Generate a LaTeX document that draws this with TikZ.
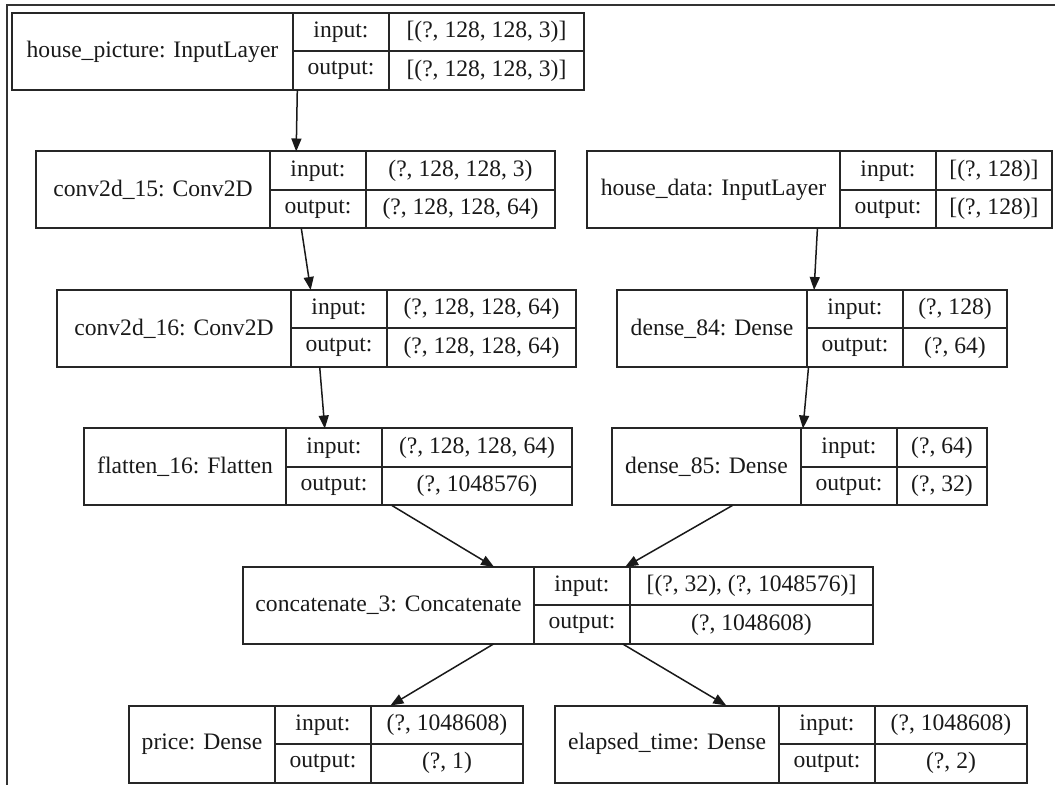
\documentclass[tikz,border=0pt]{standalone}
\usepackage{fontspec}
\setmainfont{Liberation Serif}
\usetikzlibrary{arrows.meta,positioning,fit}
\tikzstyle{cell}=[draw=black!85, line width=1pt, outer sep=0pt, inner sep=0pt, text=black!90, font=\fontsize{11.8}{14}\selectfont]
\tikzstyle{namecell}=[cell, minimum height=38.5pt, anchor=north west]
\tikzstyle{labcell}=[cell, minimum width=48pt, minimum height=19.25pt]
\tikzstyle{valcell}=[cell, minimum height=19.25pt]
\tikzstyle{arr}=[-{Triangle[length=6.5pt,width=5pt]}, line width=0.75pt, black!90]
% #1 node, #2 x, #3 y, #4 name width, #5 value width, #6 layer, #7 input, #8 output
\newcommand{\layerbox}[8]{
    \node[namecell, minimum width=#4*0.5pt] (#1-name) at (#2,#3) {#6};
    \node[labcell, anchor=north west] (#1-in) at (#1-name.north east) {input:};
    \node[labcell, below=0pt of #1-in] (#1-out) {output:};
    \node[valcell, minimum width=#5*0.5pt, right=0pt of #1-in] (#1-inval) {#7};
    \node[valcell, minimum width=#5*0.5pt, right=0pt of #1-out] (#1-outval) {#8};
    \node[fit=(#1-name)(#1-outval), inner sep=0pt, outer sep=0pt] (#1) {};
}

\begin{document}
\begin{tikzpicture}[x=0.5pt, y=-0.5pt]
\useasboundingbox (0,0) rectangle (1055,785);

% frame
\draw[line width=1pt, black!80] (6.5,785) -- (6.5,5) -- (1055,5);

% picture branch
\layerbox{pic}{12}{13}{281}{195}{house\_picture: InputLayer}{[(?, 128, 128, 3)]}{[(?, 128, 128, 3)]}
\layerbox{convA}{36}{151.5}{234}{189}{conv2d\_15: Conv2D}{(?, 128, 128, 3)}{(?, 128, 128, 64)}
\layerbox{convB}{57}{290}{234}{189}{conv2d\_16: Conv2D}{(?, 128, 128, 64)}{(?, 128, 128, 64)}
\layerbox{flat}{84}{428.5}{202}{190}{flatten\_16: Flatten}{(?, 128, 128, 64)}{(?, 1048576)}

% data branch
\layerbox{hdata}{587}{151.5}{253}{116}{house\_data: InputLayer}{[(?, 128)]}{[(?, 128)]}
\layerbox{denseA}{617}{290}{190}{104}{dense\_84: Dense}{(?, 128)}{(?, 64)}
\layerbox{denseB}{612}{428.5}{189}{90}{dense\_85: Dense}{(?, 64)}{(?, 32)}

% merge and outputs
\layerbox{cat}{243}{567}{291}{243}{concatenate\_3: Concatenate}{[(?, 32), (?, 1048576)]}{(?, 1048608)}
\layerbox{price}{129}{705.5}{146}{152}{price: Dense}{(?, 1048608)}{(?, 1)}
\layerbox{etime}{555}{705.5}{224}{152}{elapsed\_time: Dense}{(?, 1048608)}{(?, 2)}

% edges
\draw[arr] (pic) -- (convA);
\draw[arr] (convA) -- (convB);
\draw[arr] (convB) -- (flat);
\draw[arr] (hdata) -- (denseA);
\draw[arr] (denseA) -- (denseB);
\draw[arr] (flat) -- (cat);
\draw[arr] (denseB) -- (cat);
\draw[arr] (cat) -- (price);
\draw[arr] (cat) -- (etime);

\end{tikzpicture}
\end{document}
